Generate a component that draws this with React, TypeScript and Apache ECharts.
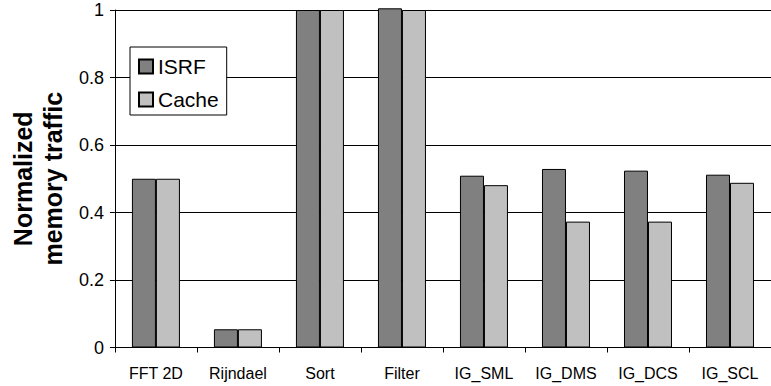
import React, { useEffect, useRef } from "react";
import * as echarts from "echarts";

const categories = ["FFT 2D", "Rijndael", "Sort", "Filter", "IG_SML", "IG_DMS", "IG_DCS", "IG_SCL"];
const isrfValues = [0.5, 0.054, 1.0, 1.005, 0.509, 0.529, 0.524, 0.512];
const cacheValues = [0.5, 0.054, 1.0, 1.0, 0.481, 0.373, 0.373, 0.488];
const seriesNames = ["ISRF", "Cache"];
const yTicks = { min: 0, max: 1, interval: 0.2 };

const FONT = "'Liberation Sans', Arial, sans-serif";

export default function App() {
  const ref = useRef<HTMLDivElement>(null);
  useEffect(() => {
    if (!ref.current) return;
    const chart = echarts.init(ref.current, null, { renderer: "svg" });
    chart.setOption({
      animation: false,
      backgroundColor: "#ffffff",
      textStyle: { fontFamily: FONT, color: "#000" },
      grid: { left: 113, top: 10, width: 666.7, height: 337.5, containLabel: false },
      legend: {
        orient: "vertical",
        left: 130,
        top: 47,
        data: seriesNames,
        backgroundColor: "#fff",
        borderColor: "#000",
        borderWidth: 1,
        padding: [9, 8, 5, 8],
        itemWidth: 14,
        itemHeight: 14,
        itemGap: 12,
        icon: "rect",
        textStyle: { fontSize: 21, fontFamily: FONT, color: "#000" },
      },
      xAxis: {
        type: "category",
        data: categories,
        axisLine: { lineStyle: { color: "#000", width: 1 } },
        axisTick: { show: true, length: 5, lineStyle: { color: "#000" } },
        axisLabel: { interval: 0, fontSize: 16, color: "#000", fontFamily: FONT, margin: 18 },
        splitLine: { show: false },
      },
      yAxis: {
        type: "value",
        min: yTicks.min,
        max: yTicks.max,
        interval: yTicks.interval,
        name: "Normalized\nmemory traffic",
        nameLocation: "middle",
        nameRotate: 90,
        nameGap: 40,
        nameTextStyle: { fontSize: 25, fontWeight: "bold", fontFamily: FONT, color: "#000", lineHeight: 30 },
        axisLine: { show: true, lineStyle: { color: "#000", width: 1 } },
        axisTick: { show: true, length: 5, lineStyle: { color: "#000" } },
        axisLabel: { fontSize: 18, color: "#000", fontFamily: FONT, margin: 11 },
        splitLine: { show: true, lineStyle: { color: "#000", width: 1 } },
      },
      series: [
        {
          name: seriesNames[0],
          type: "bar",
          data: isrfValues,
          barWidth: 24,
          barGap: "0%",
          clip: false,
          itemStyle: { color: "#808080", borderColor: "#000", borderWidth: 1 },
        },
        {
          name: seriesNames[1],
          type: "bar",
          data: cacheValues,
          barWidth: 24,
          barGap: "0%",
          clip: false,
          itemStyle: { color: "#c0c0c0", borderColor: "#000", borderWidth: 1 },
        },
      ],
    });
    return () => chart.dispose();
  }, []);
  return (
    <div
      ref={ref}
      style={{ position: "fixed", left: 0, top: 0, width: 771, height: 386, background: "#fff" }}
    />
  );
}
